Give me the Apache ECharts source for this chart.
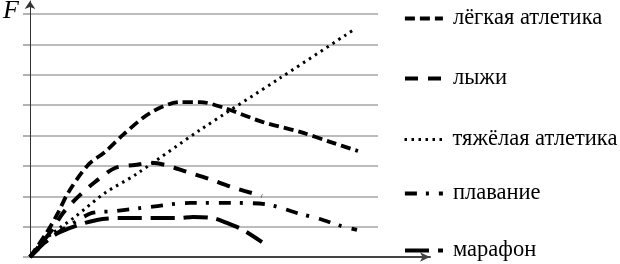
<!DOCTYPE html>
<html>
<head>
<meta charset="utf-8">
<script src="https://cdn.jsdelivr.net/npm/echarts@6/dist/echarts.min.js"></script>
<style>html,body{margin:0;padding:0;background:#fff;}#c{width:620px;height:264px;}</style>
</head>
<body>
<div id="c"></div>
<script>
// Series names (legend)
const names = ['лёгкая атлетика', 'лыжи', 'тяжёлая атлетика', 'плавание', 'марафон'];
const yTicks = [0, 1, 2, 3, 4, 5, 6, 7, 8];
const axisLabelY = 'F';

// [x, F] points (x in arbitrary time units 0..348)
const lightAthletics = [[0,0],[17,0.82],[28,1.45],[38,2.11],[58,3.03],[75,3.46],[93,4.02],[120,4.74],[150,5.10],[170,5.10],[195,4.90],[233,4.44],[270,4.12],[300,3.79],[328,3.49]];
const skiing = [[0,0],[22,0.89],[33,1.45],[48,1.98],[65,2.47],[85,2.93],[105,3.03],[120,3.10],[135,3.03],[157,2.80],[179,2.57],[202,2.30],[232,2.01]];
const weightlifting = [[0,0],[18,0.66],[45,1.32],[75,2.11],[105,2.70],[170,4.18],[250,5.89],[325,7.51]];
const swimming = [[0,0],[20,0.62],[32,0.89],[45,1.15],[62,1.45],[85,1.51],[120,1.65],[160,1.78],[200,1.78],[235,1.74],[270,1.42],[290,1.25],[308,1.05],[327,0.89]];
const marathon = [[0,0],[15,0.49],[28,0.79],[48,1.05],[67,1.22],[88,1.28],[113,1.28],[148,1.28],[163,1.32],[183,1.28],[197,1.12],[213,0.89],[232,0.49]];

const dataSets = [lightAthletics, skiing, weightlifting, swimming, marathon];
const dashTypes = [[10,5],[13,10],[2.5,4.5],[12,9,3,10],[24,9]];
const widths = [3.8, 4, 3, 3.8, 4];
const legendTops = [7, 67, 128, 182, 239];

const chart = echarts.init(document.getElementById('c'), null, {renderer: 'canvas'});
const serif = 'Liberation Serif, Times New Roman, serif';

const series = names.map((n, i) => ({
  name: n,
  type: 'line',
  xAxisIndex: 0,
  yAxisIndex: 0,
  data: dataSets[i],
  smooth: 0.3,
  symbol: 'none',
  lineStyle: {color: '#000', width: widths[i], type: dashTypes[i], cap: 'butt'},
  itemStyle: {color: '#000'},
  z: 5
}));

const legends = names.map((n, i) => ({
  data: [n],
  orient: 'vertical',
  left: 403,
  top: legendTops[i],
  padding: 0,
  itemWidth: 38,
  itemHeight: 14,
  itemStyle: {opacity: 0},
  lineStyle: {type: 'inherit', width: widths[i], color: '#000'},
  textStyle: {fontFamily: serif, fontSize: 22.5, color: '#000', lineHeight: 22, padding: [0,0,0,5]},
  selectedMode: false
}));

chart.setOption({
  animation: false,
  backgroundColor: '#fff',
  title: {text: axisLabelY, left: 3, top: -2, padding: 0, textStyle: {fontFamily: serif, fontStyle: 'italic', fontWeight: 'normal', fontSize: 26, color: '#000'}},
  legend: legends,
  grid: [
    {left: 30, top: 14, width: 348, height: 243},
    {left: 30, top: 1, width: 400, height: 256}
  ],
  xAxis: [
    {gridIndex: 0, type: 'value', min: 0, max: 348, show: false},
    {gridIndex: 1, type: 'value', min: 0, max: 1,
      axisLine: {show: true, symbol: ['none', 'arrow'], symbolSize: [7, 10], lineStyle: {color: '#444', width: 2}},
      axisTick: {show: false}, axisLabel: {show: false}, splitLine: {show: false}}
  ],
  yAxis: [
    {gridIndex: 0, type: 'value', min: yTicks[0], max: yTicks[yTicks.length-1], interval: 1,
      axisLine: {show: false},
      axisTick: {show: true, length: 7, lineStyle: {color: '#999', width: 1.5}},
      axisLabel: {show: false},
      splitLine: {show: true, lineStyle: {color: '#a6a6a6', width: 1.5}}},
    {gridIndex: 1, type: 'value', min: 0, max: 1,
      axisLine: {show: true, symbol: ['none', 'arrow'], symbolSize: [8, 8], lineStyle: {color: '#333', width: 1}},
      axisTick: {show: false}, axisLabel: {show: false}, splitLine: {show: false}}
  ],
  series: series
});
</script>
</body>
</html>
